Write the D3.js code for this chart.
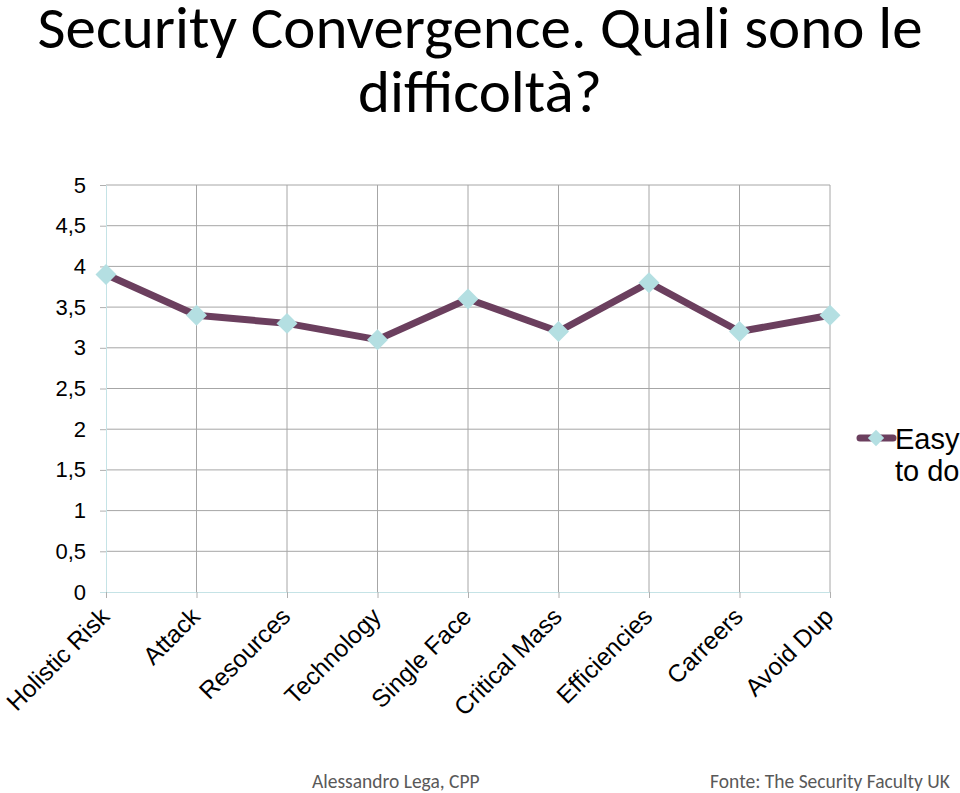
<!DOCTYPE html>
<html><head><meta charset="utf-8">
<script src="https://cdn.jsdelivr.net/npm/d3@7"></script>
<style>body{margin:0;background:#fff;}svg{display:block;}</style>
</head><body>
<svg id="c" width="960" height="793"></svg>
<script>
const categories = ["Holistic Risk","Attack","Resources","Technology","Single Face","Critical Mass","Efficiencies","Carreers","Avoid Dup"];
const values = [3.9, 3.4, 3.3, 3.1, 3.6, 3.2, 3.8, 3.2, 3.4];
const yTicks = [0, 0.5, 1, 1.5, 2, 2.5, 3, 3.5, 4, 4.5, 5];
const seriesName = ["Easy", "to do"];
const titleLines = ["Security Convergence. Quali sono le", "difficoltà?"];
const footerLeft = "Alessandro Lega, CPP";
const footerRight = "Fonte: The Security Faculty UK";

const svg = d3.select("#c");
const L = 106, R = 830, T = 185, B = 592;
const x = d3.scalePoint().domain(categories).range([L, R]).padding(0);
const y = d3.scaleLinear().domain([0, 5]).range([B, T]);
const fmt = d => String(d).replace(".", ",");

// title
const titleFont = "Carlito, 'Open Sans', 'Noto Sans', sans-serif";
const fs = 59;
const tg = svg.append("g");
const t1 = tg.append("text").attr("x", 0).attr("y", 48).attr("text-anchor", "middle")
  .attr("font-family", titleFont).attr("font-size", fs).attr("fill", "#000").text(titleLines[0]);
tg.append("text").attr("x", 0).attr("y", 112).attr("text-anchor", "middle")
  .attr("font-family", titleFont).attr("font-size", fs).attr("fill", "#000").text(titleLines[1]);
const w = t1.node().getComputedTextLength();
tg.attr("transform", `translate(480,0) scale(${885 / w},1)`);

// horizontal gridlines
svg.append("g").selectAll("line").data(yTicks.filter(d => d > 0)).join("line")
  .attr("x1", L).attr("x2", R).attr("y1", d => y(d)).attr("y2", d => y(d))
  .attr("stroke", "#a6a6a6").attr("stroke-width", 1);
// vertical gridlines
svg.append("g").selectAll("line").data(categories.slice(1)).join("line")
  .attr("x1", d => x(d)).attr("x2", d => x(d)).attr("y1", T).attr("y2", B)
  .attr("stroke", "#a6a6a6").attr("stroke-width", 1);

// y axis
const yAxis = d3.axisLeft(y).tickValues(yTicks).tickFormat(fmt).tickSize(6).tickPadding(14);
const gy = svg.append("g").attr("transform", `translate(${L},0)`).call(yAxis);
gy.select(".domain").attr("stroke", "#c5e3e6");
gy.selectAll(".tick line").attr("stroke", "#b0b0b0");
gy.selectAll(".tick text").attr("font-family", "'Liberation Sans', Arial, sans-serif")
  .attr("font-size", 22).attr("fill", "#000");

// x axis
const xAxis = d3.axisBottom(x).tickSize(6).tickFormat("");
const gx = svg.append("g").attr("transform", `translate(0,${B})`).call(xAxis);
gx.select(".domain").attr("stroke", "#c5e3e6").attr("d", `M${L - 6},0.5H${R}`);
gx.selectAll(".tick line").attr("stroke", "#b0b0b0");

svg.append("g").selectAll("text").data(categories).join("text")
  .attr("transform", d => `translate(${x(d) + 5},${B + 26}) rotate(-45)`)
  .attr("text-anchor", "end")
  .attr("font-family", "'Liberation Sans', Arial, sans-serif")
  .attr("font-size", 24.5).attr("fill", "#000").text(d => d);

// line
const lineColor = "#6b3f5e", markColor = "#b4dfe2";
const line = d3.line().x((d, i) => x(categories[i])).y(d => y(d));
svg.append("path").datum(values).attr("d", line).attr("fill", "none")
  .attr("stroke", lineColor).attr("stroke-width", 7).attr("stroke-linejoin", "round");
const diamond = d3.symbol().type(d3.symbolDiamond2).size(280);
svg.append("g").selectAll("path").data(values).join("path")
  .attr("transform", (d, i) => `translate(${x(categories[i])},${y(d)})`)
  .attr("d", diamond).attr("fill", markColor);

// legend
svg.append("line").attr("x1", 860).attr("x2", 893).attr("y1", 438).attr("y2", 438)
  .attr("stroke", lineColor).attr("stroke-width", 7).attr("stroke-linecap", "round");
svg.append("path").attr("transform", "translate(876,438)").attr("d", d3.symbol().type(d3.symbolDiamond2).size(170)).attr("fill", markColor);
svg.append("g").selectAll("text").data(seriesName).join("text")
  .attr("x", 895).attr("y", (d, i) => 449 + i * 32)
  .attr("font-family", "'Liberation Sans', Arial, sans-serif")
  .attr("font-size", 29).attr("fill", "#000").text(d => d);

// footer
svg.append("text").attr("x", 312).attr("y", 788).attr("font-family", titleFont)
  .attr("font-size", 19.5).attr("fill", "#595959").text(footerLeft);
svg.append("text").attr("x", 950).attr("y", 788).attr("text-anchor", "end").attr("font-family", titleFont)
  .attr("font-size", 19.5).attr("fill", "#595959").text(footerRight);
</script>
</body></html>
